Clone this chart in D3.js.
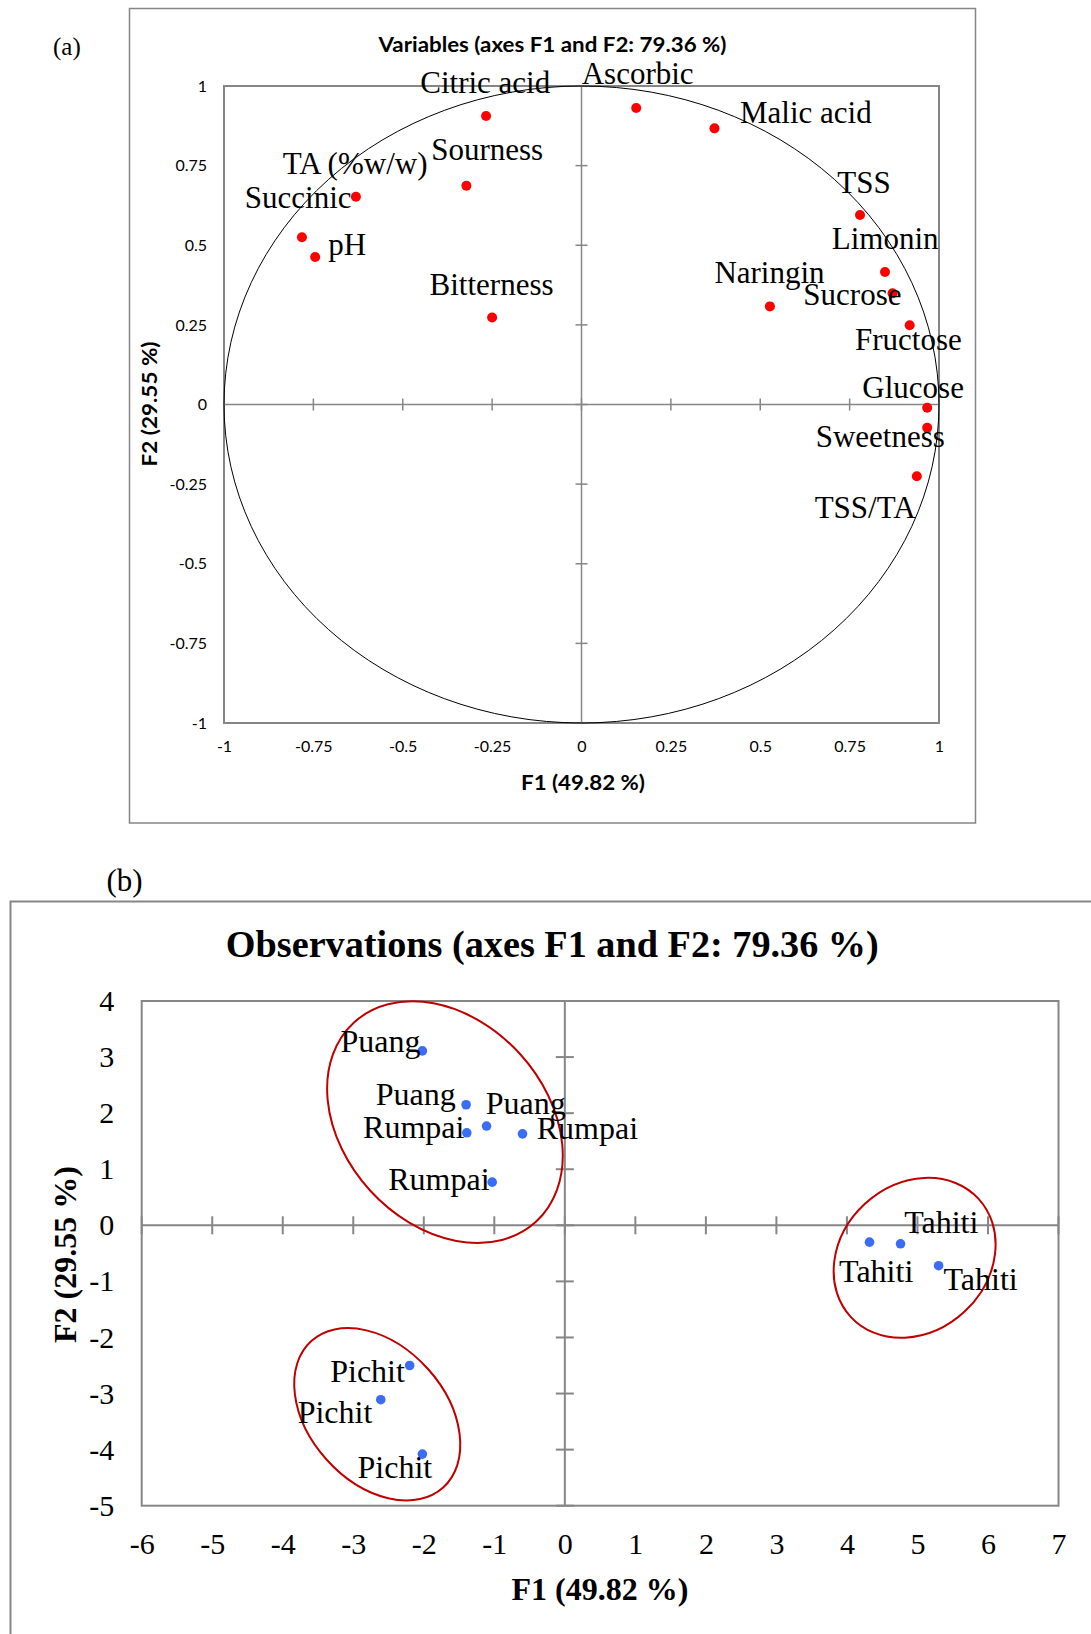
<!DOCTYPE html>
<html>
<head>
<meta charset="utf-8">
<script src="https://cdnjs.cloudflare.com/ajax/libs/d3/7.8.5/d3.min.js"></script>
<style>
body{margin:0;background:#fff}
svg{display:block}
</style>
</head>
<body>
<div id="graphHolder"></div>
<script>
// ---- data ----
// (a) variables: loadings on F1 / F2
const varLabels = ['Citric acid','Ascorbic','Malic acid','Sourness','TA (%w/w)','Succinic','pH','Bitterness',
	'TSS','Limonin','Naringin','Sucrose','Fructose','Glucose','Sweetness','TSS/TA']
const varF1 = [-0.267,0.153,0.372,-0.322,-0.631,-0.782,-0.745,-0.250,0.779,0.849,0.527,0.870,0.918,0.967,0.967,0.938]
const varF2 = [0.906,0.931,0.867,0.687,0.652,0.525,0.463,0.273,0.595,0.416,0.308,0.349,0.249,-0.010,-0.073,-0.225]
const varTicks = [-1,-0.75,-0.5,-0.25,0,0.25,0.5,0.75,1]

// (b) observations: scores on F1 / F2
const obsLabels = ['Puang','Puang','Puang','Rumpai','Rumpai','Rumpai','Tahiti','Tahiti','Tahiti','Pichit','Pichit','Pichit']
const obsF1 = [-2.02,-1.40,-1.11,-1.39,-0.60,-1.03,4.76,4.32,5.30,-2.20,-2.61,-2.02]
const obsF2 = [3.11,2.15,1.77,1.65,1.63,0.77,-0.33,-0.30,-0.72,-2.50,-3.11,-4.08]
const obsTicksX = [-6,-5,-4,-3,-2,-1,0,1,2,3,4,5,6,7]
const obsTicksY = [-5,-4,-3,-2,-1,0,1,2,3,4]
// group ellipses, centres in F1/F2 units
const groupF1 = [-1.70,4.96,-2.66]
const groupF2 = [1.84,-0.58,-3.37]

// ---- layout (pixels) ----
const varLabelDx = [-65.8,-54.5,25.5,-35.2,-73.2,-57.1,13,-62.6,-22.7,-53.3,-55.5,-89.2,-54.7,-64.9,-111.5,-102.2]
const varLabelDy = [-22.6,-23.6,-5.7,-25.7,-22.8,-29,-2,-22.5,-22.3,-23,-23.1,12.1,25.1,-9.4,18.9,42.1]
const obsLabelDx = [-81.9,-90.3,-0.8,-103.7,14.2,-104,3.7,-30.4,4.9,-79.5,-83.1,-64.9]
const obsLabelDy = [1,0,-12,5.6,4.6,8,-10.7,39.7,24.3,16,23.3,24]
const groupRx = [134.9,87,98.5]
const groupRy = [101.4,73.4,68]
const groupAngle = [47.6,-42.9,48]

const W = 1091, H = 1634
const gray = '#868686'
const serif = '"Liberation Serif","Times New Roman",serif'
const sans = 'Lato,"Liberation Sans",sans-serif'

const svg = d3.select('#graphHolder').append('svg')
	.attr('width',W).attr('height',H)
	.attr('viewBox',`0 0 ${W} ${H}`)

/* ---------- panel (a) ---------- */
function drawVariables(){
	const x = d3.scaleLinear().domain([-1,1]).range([224,939])
	const y = d3.scaleLinear().domain([-1,1]).range([723,86])
	const g = svg.append('g')

	g.append('rect')
		.attr('x',129.5).attr('y',8.5).attr('width',846).attr('height',814.5)
		.attr('fill','none').attr('stroke',gray).attr('stroke-width',1.5)

	g.append('text').text('(a)')
		.attr('x',53).attr('y',55)
		.style('font-family',serif).style('font-size','25px')

	g.append('text').text('Variables (axes F1 and F2: 79.36 %)')
		.attr('x',552.5).attr('y',51.5).attr('text-anchor','middle')
		.attr('textLength',348).attr('lengthAdjust','spacingAndGlyphs')
		.style('font-family',sans).style('font-weight','bold').style('font-size','20px')

	// plot box
	g.append('rect')
		.attr('x',x(-1)).attr('y',y(1))
		.attr('width',x(1)-x(-1)).attr('height',y(-1)-y(1))
		.attr('fill','none').attr('stroke',gray).attr('stroke-width',2)

	// tick labels via axes (no lines)
	const yAxis = g.append('g').attr('transform',`translate(${x(-1)},0)`)
		.call(d3.axisLeft(y).tickValues(varTicks).tickSize(0).tickPadding(17).tickFormat(d => String(d)))
	const xAxis = g.append('g').attr('transform',`translate(0,${y(-1)})`)
		.call(d3.axisBottom(x).tickValues(varTicks).tickSize(0).tickPadding(17.5).tickFormat(d => String(d)))
	;[xAxis,yAxis].forEach(a => {
		a.select('.domain').remove()
		a.selectAll('text').style('font-family',sans).style('font-size','16px').attr('fill','#000')
	})

	// zero lines with crossing ticks
	g.append('line').attr('x1',x(-1)).attr('x2',x(1)).attr('y1',y(0)).attr('y2',y(0))
		.attr('stroke',gray).attr('stroke-width',1.5)
	g.append('line').attr('x1',x(0)).attr('x2',x(0)).attr('y1',y(-1)).attr('y2',y(1))
		.attr('stroke',gray).attr('stroke-width',1.5)
	g.selectAll('.xt').data(varTicks).enter().append('line')
		.attr('x1',d => x(d)).attr('x2',d => x(d)).attr('y1',y(0)-6).attr('y2',y(0)+6)
		.attr('stroke',gray).attr('stroke-width',1.5)
	g.selectAll('.yt').data(varTicks).enter().append('line')
		.attr('y1',d => y(d)).attr('y2',d => y(d)).attr('x1',x(0)-6).attr('x2',x(0)+6)
		.attr('stroke',gray).attr('stroke-width',1.5)

	// correlation circle
	g.append('ellipse')
		.attr('cx',x(0)).attr('cy',y(0))
		.attr('rx',x(1)-x(0)).attr('ry',y(0)-y(1))
		.attr('fill','none').attr('stroke','#000').attr('stroke-width',1)

	// axis titles
	g.append('text').text('F1 (49.82 %)')
		.attr('x',583).attr('y',790).attr('text-anchor','middle')
		.attr('textLength',124).attr('lengthAdjust','spacingAndGlyphs')
		.style('font-family',sans).style('font-weight','bold').style('font-size','20px')
	g.append('text').text('F2 (29.55 %)')
		.attr('transform','translate(157,404) rotate(-90)').attr('text-anchor','middle')
		.attr('textLength',125).attr('lengthAdjust','spacingAndGlyphs')
		.style('font-family',sans).style('font-weight','bold').style('font-size','20px')

	// points and labels
	const pts = g.selectAll('.pt').data(varLabels).enter().append('g')
		.attr('transform',(d,i) => `translate(${x(varF1[i])},${y(varF2[i])})`)
	pts.append('circle').attr('r',5).attr('fill','#ff0000')
	pts.append('text').text(d => d)
		.attr('x',(d,i) => varLabelDx[i]).attr('y',(d,i) => varLabelDy[i])
		.style('font-family',serif).style('font-size','31px')
}

/* ---------- panel (b) ---------- */
function drawObservations(){
	const x = d3.scaleLinear().domain([-6,7]).range([141.7,1058.5])
	const y = d3.scaleLinear().domain([-5,4]).range([1505.7,1001])
	const g = svg.append('g')

	g.append('rect')
		.attr('x',10.5).attr('y',901.5).attr('width',1200).attr('height',1000)
		.attr('fill','none').attr('stroke',gray).attr('stroke-width',2)

	g.append('text').text('(b)')
		.attr('x',106.4).attr('y',890.7)
		.style('font-family',serif).style('font-size','31px')

	g.append('text').text('Observations (axes F1 and F2: 79.36 %)')
		.attr('x',552.3).attr('y',957.3).attr('text-anchor','middle')
		.attr('textLength',653).attr('lengthAdjust','spacingAndGlyphs')
		.style('font-family',serif).style('font-weight','bold').style('font-size','38px')

	g.append('rect')
		.attr('x',x(-6)).attr('y',y(4))
		.attr('width',x(7)-x(-6)).attr('height',y(-5)-y(4))
		.attr('fill','none').attr('stroke',gray).attr('stroke-width',2)

	const yAxis = g.append('g').attr('transform',`translate(${x(-6)},0)`)
		.call(d3.axisLeft(y).tickValues(obsTicksY).tickSize(0).tickPadding(27.5).tickFormat(d => String(d)))
	const xAxis = g.append('g').attr('transform',`translate(0,${y(-5)})`)
		.call(d3.axisBottom(x).tickValues(obsTicksX).tickSize(0).tickPadding(27).tickFormat(d => String(d)))
	;[xAxis,yAxis].forEach(a => {
		a.select('.domain').remove()
		a.selectAll('text').style('font-family',serif).style('font-size','30px').attr('fill','#000')
	})

	g.append('line').attr('x1',x(-6)).attr('x2',x(7)).attr('y1',y(0)).attr('y2',y(0))
		.attr('stroke',gray).attr('stroke-width',2)
	g.append('line').attr('x1',x(0)).attr('x2',x(0)).attr('y1',y(-5)).attr('y2',y(4))
		.attr('stroke',gray).attr('stroke-width',2)
	g.selectAll('.xt').data(obsTicksX).enter().append('line')
		.attr('x1',d => x(d)).attr('x2',d => x(d)).attr('y1',y(0)-9).attr('y2',y(0)+9)
		.attr('stroke',gray).attr('stroke-width',2)
	g.selectAll('.yt').data(obsTicksY).enter().append('line')
		.attr('y1',d => y(d)).attr('y2',d => y(d)).attr('x1',x(0)-9).attr('x2',x(0)+9)
		.attr('stroke',gray).attr('stroke-width',2)

	g.append('text').text('F1 (49.82 %)')
		.attr('x',600).attr('y',1600).attr('text-anchor','middle')
		.style('font-family',serif).style('font-weight','bold').style('font-size','32px')
	g.append('text').text('F2 (29.55 %)')
		.attr('transform','translate(76,1254.6) rotate(-90)').attr('text-anchor','middle')
		.style('font-family',serif).style('font-weight','bold').style('font-size','32px')

	// group ellipses
	g.selectAll('.grp').data(groupF1).enter().append('ellipse')
		.attr('rx',(d,i) => groupRx[i]).attr('ry',(d,i) => groupRy[i])
		.attr('transform',(d,i) => `translate(${x(d)},${y(groupF2[i])}) rotate(${groupAngle[i]})`)
		.attr('fill','none').attr('stroke','#c00000').attr('stroke-width',2)

	const pts = g.selectAll('.pt').data(obsLabels).enter().append('g')
		.attr('transform',(d,i) => `translate(${x(obsF1[i])},${y(obsF2[i])})`)
	pts.append('circle').attr('r',4.8).attr('fill','#3a6cf4')
	pts.append('text').text(d => d)
		.attr('x',(d,i) => obsLabelDx[i]).attr('y',(d,i) => obsLabelDy[i])
		.style('font-family',serif).style('font-size','32px')
}

drawVariables()
drawObservations()
</script>
</body>
</html>
